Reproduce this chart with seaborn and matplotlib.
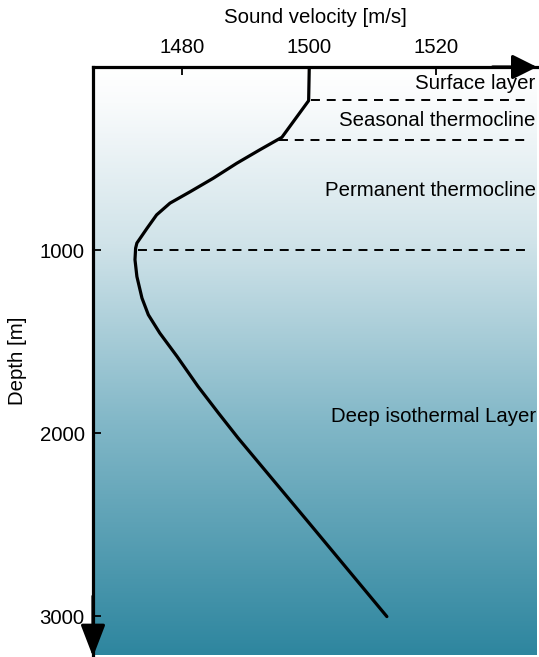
import numpy as np
import matplotlib
matplotlib.use("Agg")
import matplotlib.pyplot as plt
from matplotlib.colors import LinearSegmentedColormap
import seaborn as sns

# Sound speed profile
velocity = [1500.0, 1499.9, 1495.7, 1492.2, 1488.6, 1484.9, 1481.3, 1478.1,
            1476.0, 1474.5, 1472.9, 1472.7, 1472.6, 1472.9, 1473.7, 1474.7,
            1476.5, 1479.2, 1482.5, 1485.7, 1488.8, 1500.0, 1512.2]
depth = [0, 184, 384, 453, 526, 608, 681, 744,
         808, 881, 962, 990, 1053, 1145, 1263, 1354,
         1454, 1581, 1745, 1890, 2027, 2493, 3003]

# Layer boundaries (dashed lines) and the layer names
boundaries = [180, 400, 1000]
layer_names = ["Surface layer", "Seasonal thermocline",
               "Permanent thermocline", "Deep isothermal Layer"]
layer_label_depth = [90, 290, 675, 1910]

x_ticks = [1480, 1500, 1520]
y_ticks = [1000, 2000, 3000]

sns.set_style("white")
plt.rcParams['font.family'] = ['Liberation Sans', 'DejaVu Sans']
plt.rcParams['ytick.left'] = True
plt.rcParams['xtick.top'] = True
plt.rcParams['xtick.bottom'] = False

fig = plt.figure(figsize=(5.39, 6.57), dpi=100)
ax = fig.add_axes([93 / 539, 2 / 657, 444 / 539, 588 / 657])
ax.set_axisbelow(False)

xmin, xmax = 1466.0, 1535.8
ymin, ymax = 0, 3213
ax.set_xlim(xmin, xmax)
ax.set_ylim(ymax, ymin)

# water colour gradient
water = LinearSegmentedColormap.from_list(
    "water", [(0.0, "#ffffff"), (0.06, "#f9fbfc"), (0.3, "#d0e3e9"),
              (0.6, "#83b8c8"), (1.0, "#2e869f")])
grad = np.linspace(0, 1, 256).reshape(-1, 1)
ax.imshow(grad, cmap=water, extent=[xmin, xmax, ymax, ymin],
          aspect="auto", zorder=0)

sns.lineplot(x=velocity, y=depth, sort=False, estimator=None,
             color="black", lw=2.3, ax=ax, zorder=3)

# dashed layer boundaries, starting at the profile
for b in boundaries:
    start = np.interp(b, depth, velocity) + 0.4
    ax.plot([start, 1534.6], [b, b], color="black", lw=1.4,
            dashes=(4.6, 3.5), zorder=2)

for name, d in zip(layer_names, layer_label_depth):
    ax.text(1535.6, d, name, ha="right", va="center", fontsize=14.7,
            color="black", zorder=4)

ax.xaxis.set_ticks_position("top")
ax.xaxis.set_label_position("top")
ax.yaxis.set_ticks_position("left")
ax.set_xticks(x_ticks)
ax.set_yticks(y_ticks)
ax.tick_params(direction="in", length=6, width=1.3, labelsize=14.7,
               color="black", labelcolor="black", pad=6)
ax.tick_params(axis="x", pad=7)
ax.set_xlabel("Sound velocity [m/s]", fontsize=14.7, labelpad=11, color="black")
ax.set_ylabel("Depth [m]", fontsize=14.7, labelpad=9, color="black")

for side in ["right", "bottom"]:
    ax.spines[side].set_visible(False)
for side in ["top", "left"]:
    ax.spines[side].set_linewidth(2.3)
    ax.spines[side].set_color("black")
    ax.spines[side].set_zorder(5)

# arrowheads on the axes
ax.annotate("", xy=(1.0, 1.0), xytext=(0.9, 1.0), xycoords="axes fraction",
            arrowprops=dict(arrowstyle="-|>,head_length=1.0,head_width=0.5",
                            mutation_scale=15, lw=2.3, color="black",
                            shrinkA=0, shrinkB=0), zorder=6)
ax.annotate("", xy=(0.0, -0.003), xytext=(0.0, 0.1), xycoords="axes fraction",
            arrowprops=dict(arrowstyle="-|>,head_length=1.3,head_width=0.5",
                            mutation_scale=15, lw=2.3, color="black",
                            shrinkA=0, shrinkB=0), zorder=6, annotation_clip=False)

fig.savefig("out.png", dpi=100)
